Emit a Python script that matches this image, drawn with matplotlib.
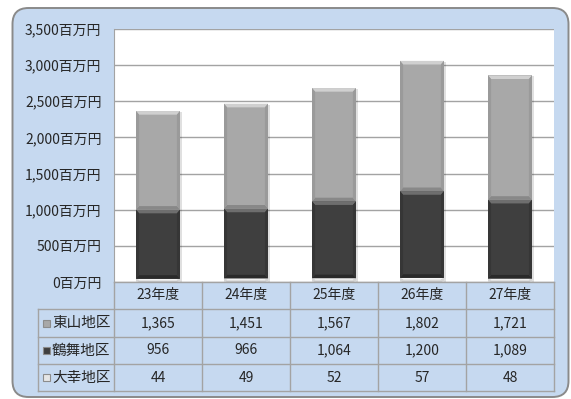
import matplotlib
matplotlib.use("Agg")
import matplotlib.pyplot as plt
from matplotlib.patches import FancyBboxPatch, Polygon, Rectangle
from matplotlib.lines import Line2D
from matplotlib.transforms import IdentityTransform

plt.rcParams['font.family'] = ['Noto Sans CJK JP', 'DejaVu Sans']

# 年度別・地区別の金額（百万円）
years = ["23年度", "24年度", "25年度", "26年度", "27年度"]
higashiyama = [1365, 1451, 1567, 1802, 1721]
tsurumai = [956, 966, 1064, 1200, 1089]
daiko = [44, 49, 52, 57, 48]
y_ticks = [0, 500, 1000, 1500, 2000, 2500, 3000, 3500]

# 下から順に積み上げる系列 (名前, 値, 面, 上面ハイライト, 側面, 下面)
stack = [
    ("大幸地区", daiko, "#e6e6e6", "#f6f6f6", "#d6d6d6", "#c4c4c4"),
    ("鶴舞地区", tsurumai, "#3f3f3f", "#6e6e6e", "#363636", "#2a2a2a"),
    ("東山地区", higashiyama, "#a8a8a8", "#d0d0d0", "#9a9a9a", "#888888"),
]
# 表の行の並び（上から）
rows = [stack[2], stack[1], stack[0]]

W, H = 571, 399
TXT = "#262626"
GRID = "#a3a3a3"
BG = "#c6d9f0"


def box(x0, y0, x1, y1):
    return [x0 / W, 1 - y1 / H, (x1 - x0) / W, (y1 - y0) / H]


fig = plt.figure(figsize=(W / 100, H / 100), dpi=100, facecolor="white")

# 角丸の背景
frame = FancyBboxPatch((12.5, H - 397), 556, 389,
                       boxstyle="round,pad=0,rounding_size=16",
                       transform=IdentityTransform(), facecolor=BG,
                       edgecolor="#8a8a8a", linewidth=1.4, zorder=-10)
fig.add_artist(frame)

ax = fig.add_axes(box(114, 29, 554, 282))
ax.set_facecolor("white")
ax.set_xlim(-0.5, 4.5)
ax.set_ylim(0, 3500)
ax.set_yticks(y_ticks)
ax.set_yticklabels([f"{v:,}百万円" for v in y_ticks], fontsize=10, color=TXT)
ax.tick_params(axis="y", length=0, pad=9)
ax.set_xticks([])
for s in ["top", "right", "bottom"]:
    ax.spines[s].set_visible(False)
ax.spines["left"].set_color(GRID)
ax.yaxis.grid(True, color=GRID, linewidth=1)
ax.set_axisbelow(True)

bw = 0.5
bx = 0.035
by = 50


def bevel_bar(x, bottom, h, face, top, side, low):
    l, r = x - bw / 2, x + bw / 2
    b, t = bottom, bottom + h
    d = min(by, h / 3)
    # 影
    ax.add_patch(Rectangle((l + 0.02, b - 12), bw, h, facecolor="#000000",
                           alpha=0.12, edgecolor="none", zorder=2))
    ax.add_patch(Rectangle((l, b), bw, h, facecolor=face, edgecolor="none", zorder=3))
    ax.add_patch(Polygon([(l, t), (r, t), (r - bx, t - d), (l + bx, t - d)],
                         closed=True, facecolor=top, edgecolor="none", zorder=4))
    ax.add_patch(Polygon([(l, b), (r, b), (r - bx, b + d), (l + bx, b + d)],
                         closed=True, facecolor=low, edgecolor="none", zorder=4))
    ax.add_patch(Polygon([(l, b), (l + bx, b + d), (l + bx, t - d), (l, t)],
                         closed=True, facecolor=side, edgecolor="none", zorder=4))
    ax.add_patch(Polygon([(r, b), (r - bx, b + d), (r - bx, t - d), (r, t)],
                         closed=True, facecolor=side, edgecolor="none", zorder=4))


bottoms = [0] * len(years)
for name, vals, face, top, side, low in stack:
    for i, v in enumerate(vals):
        bevel_bar(i, bottoms[i], v, face, top, side, low)
        bottoms[i] += v

# データテーブル
tab = fig.add_axes(box(38, 282, 554, 391))
tab.set_xlim(38, 554)
tab.set_ylim(391, 282)
tab.axis("off")
tab.patch.set_alpha(0)

col_edges = [114 + 88 * i for i in range(len(years) + 1)]
row_edges = [282, 309, 337, 364, 391]


def hline(y, x0, x1):
    tab.add_line(Line2D([x0, x1], [y, y], color=GRID, linewidth=1, clip_on=False))


def vline(x, y0, y1):
    tab.add_line(Line2D([x, x], [y0, y1], color=GRID, linewidth=1, clip_on=False))


hline(row_edges[0], 114, 554)
for y in row_edges[1:]:
    hline(y, 38, 554)
vline(38, row_edges[1], row_edges[-1])
for x in col_edges:
    vline(x, row_edges[0], row_edges[-1])

for i, yr in enumerate(years):
    xc = (col_edges[i] + col_edges[i + 1]) / 2
    tab.text(xc, (row_edges[0] + row_edges[1]) / 2, yr, ha="center",
             va="center", fontsize=10, color=TXT)
    for j, row in enumerate(rows):
        yc = (row_edges[j + 1] + row_edges[j + 2]) / 2
        tab.text(xc, yc, f"{row[1][i]:,}", ha="center", va="center",
                 fontsize=10, color=TXT)

for j, (name, vals, face, top, side, low) in enumerate(rows):
    yc = (row_edges[j + 1] + row_edges[j + 2]) / 2
    tab.add_patch(Rectangle((43, yc - 3.5), 7, 7, facecolor=face,
                            edgecolor="#8c8c8c", linewidth=0.8))
    tab.text(52, yc, name, ha="left", va="center", fontsize=10.5, color=TXT)

fig.savefig("out.png", dpi=100)
